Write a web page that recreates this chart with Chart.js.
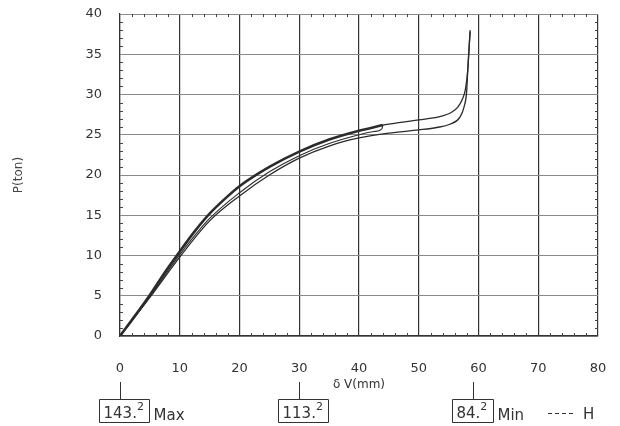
<!DOCTYPE html>
<html>
<head>
<meta charset="utf-8">
<script src="https://cdn.jsdelivr.net/npm/chart.js@4.4.0/dist/chart.umd.min.js"></script>
<style>
  html, body { margin: 0; padding: 0; background: #fff; }
  #wrap { width: 620px; height: 426px; }
</style>
</head>
<body>
<div id="wrap"><canvas id="chart"></canvas></div>
<script>
// load-deflection curves (x: mm, y: ton)
const firstLoadX = [0, 2.5, 5, 7.5, 10, 12.5, 15, 17.5, 20, 25, 30, 35, 40, 44];
const firstLoadY = [0, 2.5, 5.1, 7.9, 10.5, 13.0, 15.2, 17.0, 18.6, 21.0, 22.9, 24.4, 25.5, 26.2];

const secondLoadX = [0, 5, 10, 15, 20, 25, 30, 35, 40, 42.5, 43.8, 44];
const secondLoadY = [0, 4.9, 10.1, 14.6, 17.8, 20.4, 22.4, 23.9, 25.0, 25.4, 25.7, 26.2];

const lowerBranchX = [0, 5, 10, 15, 20, 25, 30, 35, 40, 45, 50, 53, 55.2, 56.9, 57.6, 58.0, 58.2, 58.4, 58.6];
const lowerBranchY = [0, 4.8, 9.8, 14.3, 17.4, 20.0, 22.1, 23.6, 24.6, 25.2, 25.6, 25.9, 26.3, 27.2, 28.5, 30.2, 33.0, 35.5, 37.8];

const upperBranchX = [44, 47, 50, 53.5, 55.5, 56.5, 57.3, 57.8, 58.2, 58.4, 58.6];
const upperBranchY = [26.2, 26.55, 26.85, 27.25, 27.8, 28.4, 29.4, 30.6, 33.0, 35.5, 38.0];

// axis ranges / ticks
const xMin = 0, xMax = 80, xStep = 10, xMinorStep = 2;
const yMin = 0, yMax = 40, yStep = 5, yMinorStep = 1;

// boxed readings under the x axis
const markerAt = [0, 30, 59];
const markerValue = ['143.', '113.', '84.'];
const markerSup = ['2', '2', '2'];
const markerNote = ['Max', '', 'Min'];
const legendLabel = 'H';

const toPoints = (xs, ys) => xs.map((x, i) => ({ x: x, y: ys[i] }));

const ink = '#2b2b2b';
const labelFont = { family: 'DejaVu Sans', size: 13 };

const lineSet = (label, xs, ys, width) => ({
  label: label,
  data: toPoints(xs, ys),
  showLine: true,
  borderColor: ink,
  borderWidth: width,
  pointRadius: 0,
  cubicInterpolationMode: 'monotone',
  fill: false
});

// keep the plot box where the layout padding puts it
const noOverhang = (s) => {
  s.paddingTop = 0; s.paddingBottom = 0; s.paddingLeft = 0; s.paddingRight = 0;
};

// minor ticks on the frame + boxed values below
const frameMarks = {
  id: 'frameMarks',
  afterDraw(chart) {
    const { ctx, chartArea: a, scales: { x, y } } = chart;
    ctx.save();
    ctx.strokeStyle = '#444';
    ctx.lineWidth = 1;
    ctx.beginPath();
    for (let v = xMin; v <= xMax; v += xMinorStep) {
      if (v % xStep === 0) continue;
      const px = Math.round(x.getPixelForValue(v)) + 0.5;
      ctx.moveTo(px, a.bottom); ctx.lineTo(px, a.bottom - 3);
      ctx.moveTo(px, a.top); ctx.lineTo(px, a.top + 3);
    }
    for (let v = yMin; v <= yMax; v += yMinorStep) {
      if (v % yStep === 0) continue;
      const py = Math.round(y.getPixelForValue(v)) + 0.5;
      ctx.moveTo(a.left, py); ctx.lineTo(a.left + 3, py);
      ctx.moveTo(a.right, py); ctx.lineTo(a.right - 3, py);
    }
    ctx.stroke();

    // boxed readings
    const boxTop = 399, boxH = 23, lineTop = 382;
    ctx.strokeStyle = '#333';
    ctx.fillStyle = '#333';
    ctx.textBaseline = 'alphabetic';
    markerAt.forEach((v, i) => {
      const cx = Math.round(x.getPixelForValue(v)) + 0.5;
      ctx.font = '15px "DejaVu Sans"';
      const wMain = ctx.measureText(markerValue[i]).width;
      ctx.font = '11px "DejaVu Sans"';
      const wSup = ctx.measureText(markerSup[i]).width;
      const boxW = Math.round(wMain + wSup + 10);
      const left = Math.round(cx - 22) + 0.5;
      ctx.beginPath();
      ctx.moveTo(cx, lineTop); ctx.lineTo(cx, boxTop);
      ctx.rect(left, boxTop + 0.5, boxW, boxH);
      ctx.stroke();
      ctx.font = '15px "DejaVu Sans"';
      ctx.textAlign = 'left';
      ctx.fillText(markerValue[i], left + 4, boxTop + 19);
      ctx.font = '11px "DejaVu Sans"';
      ctx.fillText(markerSup[i], left + 4 + wMain, boxTop + 11);
      if (markerNote[i]) {
        ctx.font = '15px "DejaVu Sans"';
        ctx.fillText(markerNote[i], left + boxW + 4, boxTop + 21);
      }
    });

    // "---- H" key
    const kx = a.right - 50, ky = 413.5;
    ctx.setLineDash([4, 3]);
    ctx.beginPath();
    ctx.moveTo(kx, ky); ctx.lineTo(kx + 27, ky);
    ctx.stroke();
    ctx.setLineDash([]);
    ctx.font = '15px "DejaVu Sans"';
    ctx.fillText(legendLabel, kx + 35, boxTop + 20);
    ctx.restore();
  }
};

new Chart(document.getElementById('chart'), {
  type: 'scatter',
  data: {
    datasets: [
      lineSet('first loading', firstLoadX, firstLoadY, 2.6),
      lineSet('second loading', secondLoadX, secondLoadY, 1.1),
      lineSet('lower branch', lowerBranchX, lowerBranchY, 1.3),
      lineSet('upper branch', upperBranchX, upperBranchY, 1.3)
    ]
  },
  options: {
    responsive: true,
    maintainAspectRatio: false,
    animation: false,
    layout: { padding: { left: 0, top: 14, right: 22, bottom: 34 } },
    plugins: { legend: { display: false }, tooltip: { enabled: false } },
    scales: {
      x: {
        type: 'linear',
        min: xMin, max: xMax,
        afterFit: (s) => { s.height = 56; noOverhang(s); },
        ticks: { stepSize: xStep, padding: 25, color: '#333', font: labelFont, maxRotation: 0 },
        grid: { color: '#333', lineWidth: 1.2, drawTicks: false },
        border: { color: '#333', width: 1.2 },
        title: { display: true, text: 'δ V(mm)', color: '#333', font: { family: 'DejaVu Sans', size: 12 }, padding: { top: 0, bottom: 0 } }
      },
      y: {
        type: 'linear',
        min: yMin, max: yMax,
        afterFit: (s) => { s.width = 120; noOverhang(s); },
        ticks: { stepSize: yStep, padding: 18, color: '#333', font: labelFont },
        grid: { color: '#8a8a8a', lineWidth: 1, drawTicks: false },
        border: { color: '#333', width: 1.2 },
        title: { display: true, text: 'P(ton)', color: '#444', font: { family: 'DejaVu Sans', size: 12 }, padding: { top: 12, bottom: 0 } }
      }
    }
  },
  plugins: [frameMarks]
});
</script>
</body>
</html>
